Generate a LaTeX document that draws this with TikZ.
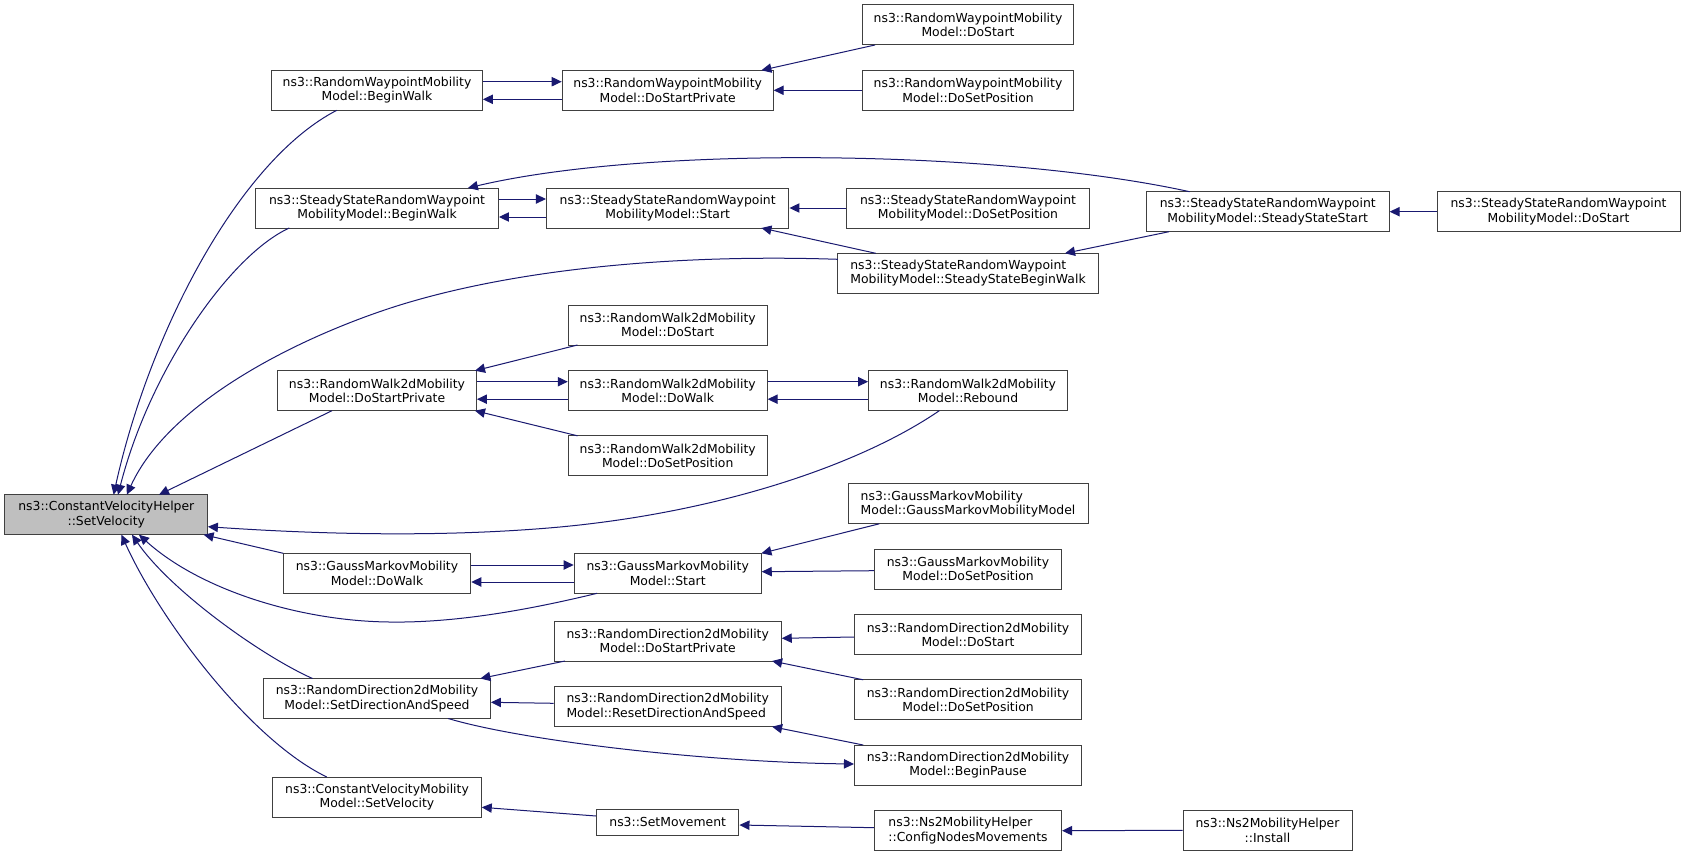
\documentclass[tikz,border=0pt]{standalone}
\usepackage{fontspec}
\setmainfont{DejaVu Sans}
\usetikzlibrary{arrows.meta,calc}
\definecolor{edgecol}{HTML}{191970}
\definecolor{boxline}{HTML}{404040}
\definecolor{hl}{HTML}{BFBFBF}
\begin{document}
\begin{tikzpicture}[x=0.75pt,y=-0.75pt,
  box/.style={draw=boxline, line width=0.75pt, fill=white, minimum height=30pt, inner sep=0pt, align=center, font=\fontsize{9.3}{10.7}\selectfont},
  bw/.style={minimum width=#1*0.75pt},
  lbox/.style={box, align=left},
  edge/.style={draw=edgecol, line width=0.75pt, -{Triangle[length=7.5pt,width=7pt]}}]
\useasboundingbox[fill=white] (0,0) rectangle (1685,856);
% rank 0
\node[box,fill=hl,bw=203.3] (cvh) at (106.3,514.7) {ns3::ConstantVelocityHelper\\::SetVelocity};
% rank 1
\node[box,bw=210.7] (rwpbw) at (377,90.3) {ns3::RandomWaypointMobility\\Model::BeginWalk};
\node[box,bw=242.9] (ssbw) at (377,208) {ns3::SteadyStateRandomWaypoint\\MobilityModel::BeginWalk};
\node[box,bw=198.9] (rwdsp) at (377,390.7) {ns3::RandomWalk2dMobility\\Model::DoStartPrivate};
\node[box,bw=187.5] (gmdw) at (377,573.3) {ns3::GaussMarkovMobility\\Model::DoWalk};
\node[box,bw=226.8] (rdsdas) at (377,698.5) {ns3::RandomDirection2dMobility\\Model::SetDirectionAndSpeed};
\node[box,bw=208.5] (cvmm) at (377,797) {ns3::ConstantVelocityMobility\\Model::SetVelocity};
% rank 2
\node[box,bw=211] (rwpdsp) at (667.7,90.3) {ns3::RandomWaypointMobility\\Model::DoStartPrivate};
\node[box,bw=242.5] (ssstart) at (667.7,208) {ns3::SteadyStateRandomWaypoint\\MobilityModel::Start};
\node[box,bw=198.9] (rwds) at (667.7,325) {ns3::RandomWalk2dMobility\\Model::DoStart};
\node[box,bw=198.9] (rwdw) at (667.7,390.7) {ns3::RandomWalk2dMobility\\Model::DoWalk};
\node[box,bw=198.9] (rwdsetp) at (667.7,455.8) {ns3::RandomWalk2dMobility\\Model::DoSetPosition};
\node[box,bw=187.1] (gmst) at (667.7,573.3) {ns3::GaussMarkovMobility\\Model::Start};
\node[box,bw=227.1] (rddsp) at (667.7,641) {ns3::RandomDirection2dMobility\\Model::DoStartPrivate};
\node[lbox,bw=227.1] (rdrdas) at (667.7,706.7) {ns3::RandomDirection2dMobility\\Model::ResetDirectionAndSpeed};
\node[box,bw=142.5,minimum height=19.5pt] (setmov) at (667.7,822.3) {ns3::SetMovement};
% rank 3
\node[box,bw=210.7] (rwpds) at (968,25) {ns3::RandomWaypointMobility\\Model::DoStart};
\node[box,bw=210.7] (rwpdsetp) at (968,90.3) {ns3::RandomWaypointMobility\\Model::DoSetPosition};
\node[box,bw=242.9] (ssdsetp) at (968,208) {ns3::SteadyStateRandomWaypoint\\MobilityModel::DoSetPosition};
\node[lbox,bw=260.2] (sssbw) at (968,273.3) {ns3::SteadyStateRandomWaypoint\\MobilityModel::SteadyStateBeginWalk};
\node[box,bw=198.9] (rwreb) at (968,390.7) {ns3::RandomWalk2dMobility\\Model::Rebound};
\node[lbox,bw=240] (gmgmmm) at (968,503.8) {ns3::GaussMarkovMobility\\Model::GaussMarkovMobilityModel};
\node[box,bw=187.1] (gmdsetp) at (968,569.2) {ns3::GaussMarkovMobility\\Model::DoSetPosition};
\node[box,bw=227.1] (rdds) at (968,634.7) {ns3::RandomDirection2dMobility\\Model::DoStart};
\node[box,bw=227.1] (rddsetp) at (968,699.8) {ns3::RandomDirection2dMobility\\Model::DoSetPosition};
\node[box,bw=227.1] (rdbp) at (968,765) {ns3::RandomDirection2dMobility\\Model::BeginPause};
\node[lbox,bw=187.1] (cnm) at (968,830.7) {ns3::Ns2MobilityHelper\\::ConfigNodesMovements};
% rank 4
\node[box,bw=242.9] (ssss) at (1267.7,211.7) {ns3::SteadyStateRandomWaypoint\\MobilityModel::SteadyStateStart};
\node[box,bw=169] (inst) at (1267.5,830.3) {ns3::Ns2MobilityHelper\\::Install};
% rank 5
\node[box,bw=243] (ssds) at (1558.5,211.7) {ns3::SteadyStateRandomWaypoint\\MobilityModel::DoStart};

% edges into cvh
\draw[edge] ($(rwpbw.center)+(-40.2,20)$) .. controls (240,160) and (150,330) .. ($(cvh.center)+(7.3,-20)$);
\draw[edge] ($(ssbw.center)+(-87.7,20)$) .. controls (230,255) and (150,370) .. ($(cvh.center)+(11.7,-20)$);
\draw[edge] ($(sssbw.center)+(-130.1,-14)$) .. controls (680,254) and (520,268) .. (400,305) .. controls (304,335) and (170,400) .. ($(cvh.center)+(20.5,-20)$);
\draw[edge] ($(rwdsp.center)+(-45,20)$) -- ($(cvh.center)+(52.7,-20)$);
\draw[edge] ($(rwreb.center)+(-28.7,20)$) .. controls (860,465) and (720,512) .. (560,527) .. controls (450,537) and (330,535) .. ($(cvh.center)+(101.6,12)$);
\draw[edge] ($(gmdw.center)+(-93.75,-20)$) -- ($(cvh.center)+(97.3,20)$);
\draw[edge] ($(gmst.center)+(-70.6,20)$) .. controls (520,612) and (450,623) .. (389,622) .. controls (300,621) and (200,590) .. ($(cvh.center)+(32.7,20)$);
\draw[edge] ($(rdsdas.center)+(-64.5,-20)$) .. controls (260,655) and (170,590) .. ($(cvh.center)+(25.7,20)$);
\draw[edge] ($(cvmm.center)+(-50.2,-20)$) .. controls (250,740) and (160,620) .. ($(cvh.center)+(15.1,20)$);
% random waypoint
\draw[edge] ($(rwpbw.east)+(0,-8.6)$) -- ($(rwpdsp.west)+(0,-8.6)$);
\draw[edge] ($(rwpdsp.west)+(0,9)$) -- ($(rwpbw.east)+(0,9)$);
\draw[edge] ($(rwpds.center)+(-93,20)$) -- ($(rwpdsp.center)+(93.7,-20)$);
\draw[edge] (rwpdsetp.west) -- (rwpdsp.east);
% steady state
\draw[edge] ($(ssbw.east)+(0,-9)$) -- ($(ssstart.west)+(0,-9)$);
\draw[edge] ($(ssstart.west)+(0,9)$) -- ($(ssbw.east)+(0,9)$);
\draw[edge] ($(ssss.center)+(-78.1,-20)$) .. controls (1000,150) and (650,145) .. ($(ssbw.center)+(90.9,-20)$);
\draw[edge] (ssdsetp.west) -- (ssstart.east);
\draw[edge] ($(sssbw.center)+(-92.3,-20)$) -- ($(ssstart.center)+(93.7,20)$);
\draw[edge] ($(ssss.center)+(-98.7,20)$) -- ($(sssbw.center)+(97,-20)$);
\draw[edge] (ssds.west) -- (ssss.east);
% random walk
\draw[edge] ($(rwds.center)+(-90.2,20)$) -- ($(rwdsp.center)+(98,-20)$);
\draw[edge] ($(rwdsp.east)+(0,-9)$) -- ($(rwdw.west)+(0,-9)$);
\draw[edge] ($(rwdw.west)+(0,8.5)$) -- ($(rwdsp.east)+(0,8.5)$);
\draw[edge] ($(rwdsetp.center)+(-90.2,-20)$) -- ($(rwdsp.center)+(98,20)$);
\draw[edge] ($(rwdw.east)+(0,-9)$) -- ($(rwreb.west)+(0,-9)$);
\draw[edge] ($(rwreb.west)+(0,8.5)$) -- ($(rwdw.east)+(0,8.5)$);
% gauss markov
\draw[edge] ($(gmdw.east)+(0,-8.3)$) -- ($(gmst.west)+(0,-8.3)$);
\draw[edge] ($(gmst.west)+(0,8.7)$) -- ($(gmdw.east)+(0,8.7)$);
\draw[edge] ($(gmgmmm.center)+(-88.7,20)$) -- ($(gmst.center)+(93.7,-20)$);
\draw[edge] ($(gmdsetp.west)+(0,1.5)$) -- ($(gmst.east)+(0,-1.6)$);
% random direction
\draw[edge] ($(rddsp.center)+(-102.7,20)$) -- ($(rdsdas.center)+(103.4,-20)$);
\draw[edge] ($(rdrdas.west)+(0,-3.4)$) -- ($(rdsdas.east)+(0,3.8)$);
\draw[edge] ($(rdsdas.center)+(71.2,20)$) .. controls (520,740) and (700,762) .. ($(rdbp.west)+(0,-1)$);
\draw[edge] ($(rdds.west)+(0,2.3)$) -- ($(rddsp.east)+(0,-2.7)$);
\draw[edge] ($(rddsetp.center)+(-104.8,-20)$) -- ($(rddsp.center)+(104.4,20)$);
\draw[edge] ($(rdbp.center)+(-104.8,-20)$) -- ($(rdrdas.center)+(104.4,20)$);
% ns2
\draw[edge] ($(setmov.west)+(0,-6.3)$) -- ($(cvmm.east)+(0,10.3)$);
\draw[edge] ($(cnm.west)+(0,-3)$) -- ($(setmov.east)+(0,2.7)$);
\draw[edge] (inst.west) -- (cnm.east);
\end{tikzpicture}
\end{document}
